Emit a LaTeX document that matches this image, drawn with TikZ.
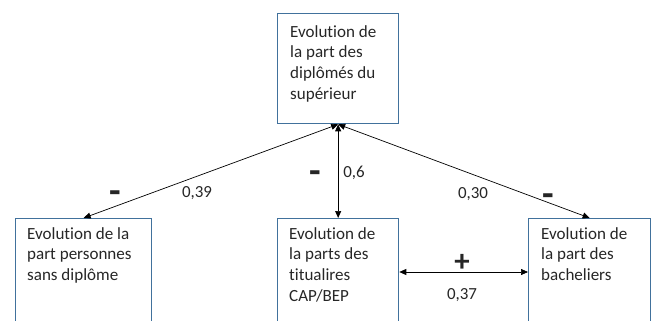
\documentclass[tikz,border=0pt]{standalone}
\usepackage{fontspec}
\setmainfont[Ligatures=NoCommon]{Carlito}
\usetikzlibrary{arrows.meta}
\definecolor{boxblue}{RGB}{65,113,156}
\definecolor{ink}{RGB}{38,38,38}
\begin{document}
\begin{tikzpicture}[x=1bp,y=1bp,
  box/.style={draw=boxblue, line width=1.3bp, rectangle, inner sep=0, anchor=north west},
  txt/.style={anchor=base west, inner sep=0, font=\fontsize{17.1}{21}\selectfont, text=ink},
  conn/.style={line width=0.7bp, draw=black, {Triangle[length=7bp,width=6bp]}-{Triangle[length=7bp,width=6bp]}},
  lbl/.style={inner sep=0, anchor=base, font=\fontsize{17}{20}\selectfont, text=ink},
  sign/.style={inner sep=0, anchor=base, font=\fontsize{38}{40}\selectfont\bfseries, text=ink},
  plus/.style={inner sep=0, anchor=base, font=\fontsize{31}{34}\selectfont\bfseries, text=ink}]
\useasboundingbox (0,0) rectangle (654,320);
\clip (0,0) rectangle (654,320);
% boxes
\node[box, minimum width=121bp, minimum height=110bp] (top) at (277,307) {};
\node[box, minimum width=136bp, minimum height=112bp] (bl) at (15,102) {};
\node[box, minimum width=121bp, minimum height=112bp] (mid) at (277,102) {};
\node[box, minimum width=122bp, minimum height=112bp] (br) at (528,102) {};
% texts
\node[txt] (ttop) at (290,283) {\begin{tabular}[t]{@{}l@{}}Evolution de\\la part des\\diplômés du\\supérieur\end{tabular}};
\node[txt] (tbl) at (27,81) {\begin{tabular}[t]{@{}l@{}}Evolution de la\\part personnes\\sans diplôme\end{tabular}};
\node[txt] (tmid) at (289,81) {\begin{tabular}[t]{@{}l@{}}Evolution de\\la parts des\\titualires\\CAP/BEP\end{tabular}};
\node[txt] (tbr) at (541,81) {\begin{tabular}[t]{@{}l@{}}Evolution de\\la part des\\bacheliers\end{tabular}};
% connectors
\draw[conn] (top.south) -- (bl.north);
\draw[conn] (top.south) -- (mid.north);
\draw[conn] (top.south) -- (br.north);
\coordinate (h) at (0,48);
\draw[conn] (mid.east |- h) -- (br.west |- h);
% labels
\node[sign] (s1) at (115,116.5) {-};
\node[lbl] (l1) at (197,123) {0,39};
\node[sign] (s2) at (315,136.5) {-};
\node[lbl] (l2) at (354,143) {0,6};
\node[lbl] (l3) at (473,122) {0,30};
\node[sign] (s3) at (548,113.5) {-};
\node[plus] (s4) at (462,48.5) {+};
\node[lbl] (l4) at (462,21) {0,37};
\end{tikzpicture}
\end{document}
